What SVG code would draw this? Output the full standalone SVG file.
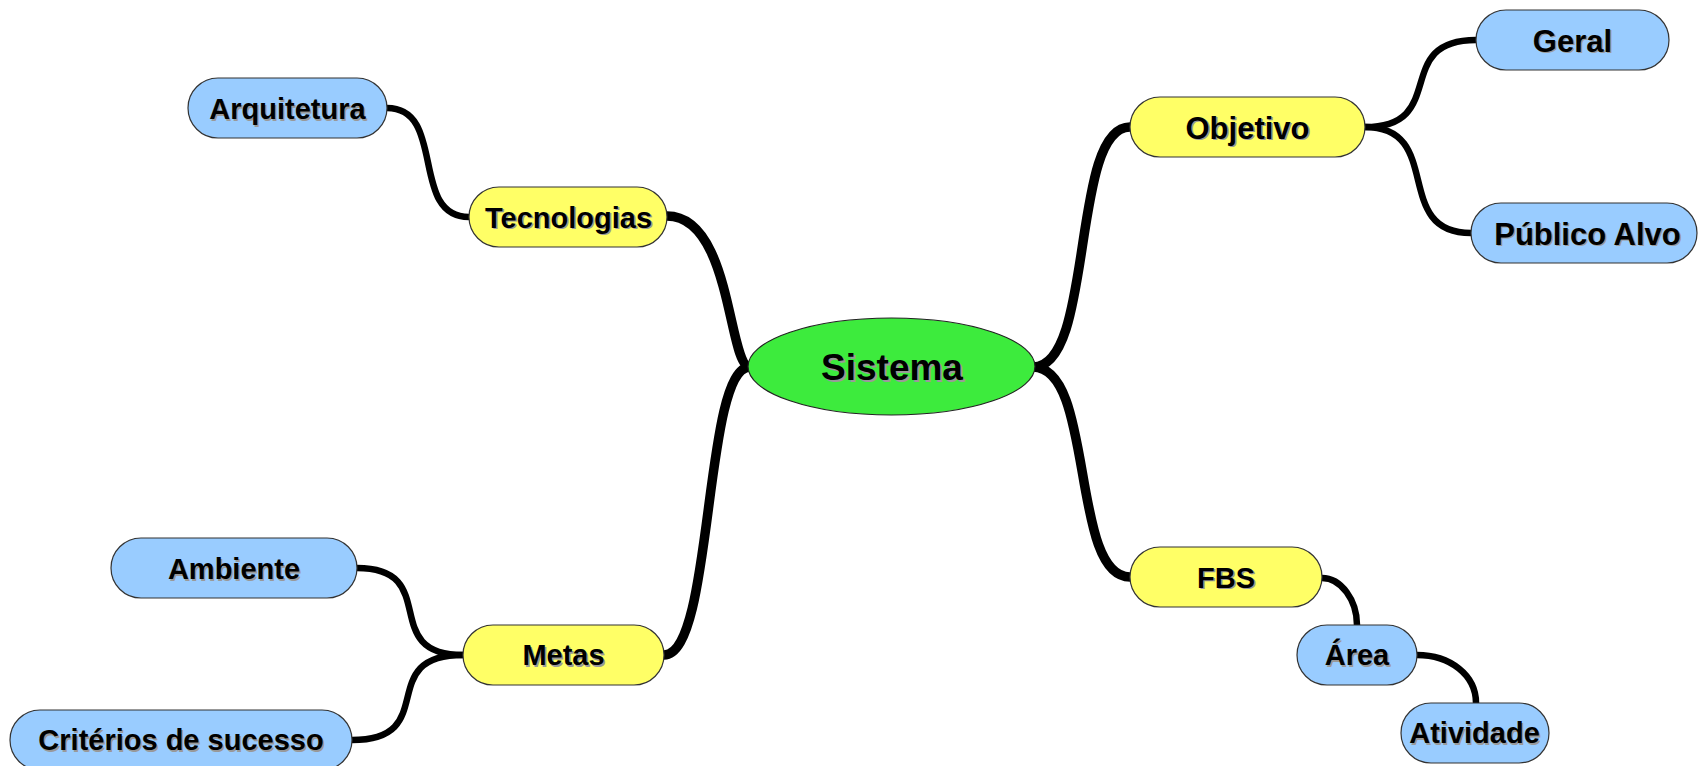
<svg xmlns="http://www.w3.org/2000/svg" width="1699" height="766" viewBox="0 0 1699 766">
<style>
.bg{fill:#ffffff}
.main{fill:none;stroke:#000;stroke-width:9.5;stroke-linecap:butt}
.sub{fill:none;stroke:#000;stroke-width:6.5;stroke-linecap:butt}
.y{fill:#FFFF66;stroke:#333;stroke-width:1.2}
.b{fill:#99CCFF;stroke:#333;stroke-width:1.2}
.g{fill:#3DEB3D;stroke:#222;stroke-width:1.2}
text{font-family:"Liberation Sans",Arial,sans-serif;font-weight:bold;text-anchor:middle}
.t{fill:#000;font-size:29px}
.tl{fill:#000;font-size:31px}
.sh{fill:#999;font-size:29px}
.shl{fill:#999;font-size:31px}
</style>
<rect class="bg" x="0" y="0" width="1699" height="766"/>
<g id="connectors">
  <path class="main" d="M667,216 C732,216 728,367 750,367"/>
  <path class="main" d="M750,367 C703,367 714,655 664,655"/>
  <path class="main" d="M1033,367 C1095,367 1070,127 1130,127"/>
  <path class="main" d="M1033,367 C1095,367 1070,577 1130,577"/>
  <path class="sub" d="M387,108 C447,108 409,217 469,217"/>
  <path class="sub" d="M357,568 C443,568 377,655 463,655"/>
  <path class="sub" d="M352,740 C442,740 373,655 463,655"/>
  <path class="sub" d="M1365,127 C1450,127 1391,40 1476,40"/>
  <path class="sub" d="M1365,127 C1445,127 1391,233 1471,233"/>
  <path class="sub" d="M1322,578 C1341,578 1357,600 1357,625"/>
  <path class="sub" d="M1417,655 C1450,655 1476,675 1476,703"/>
</g>
<g id="sistema">
  <ellipse class="g" cx="891.5" cy="366.5" rx="143.5" ry="48.5"/>
  <text x="894" y="382" style="fill:#999;font-size:37px">Sistema</text>
  <text x="892" y="380" style="fill:#000;font-size:37px">Sistema</text>
</g>
<g id="tecnologias">
  <rect class="y" x="469" y="187" width="198" height="60" rx="30"/>
  <text class="sh" x="570" y="229">Tecnologias</text>
  <text class="t" x="568.5" y="227.5">Tecnologias</text>
</g>
<g id="arquitetura">
  <rect class="b" x="188" y="78" width="199" height="60" rx="30"/>
  <text class="sh" x="289" y="120.5">Arquitetura</text>
  <text class="t" x="287.5" y="119">Arquitetura</text>
</g>
<g id="metas">
  <rect class="y" x="463" y="625" width="201" height="60" rx="30"/>
  <text class="sh" x="565" y="666.5">Metas</text>
  <text class="t" x="563.5" y="665">Metas</text>
</g>
<g id="ambiente">
  <rect class="b" x="111" y="538" width="246" height="60" rx="30"/>
  <text class="sh" x="235.5" y="580.5">Ambiente</text>
  <text class="t" x="234" y="579">Ambiente</text>
</g>
<g id="criterios">
  <rect class="b" x="10" y="710" width="342" height="60" rx="30"/>
  <text class="sh" x="182.5" y="751.5">Critérios de sucesso</text>
  <text class="t" x="181" y="750">Critérios de sucesso</text>
</g>
<g id="objetivo">
  <rect class="y" x="1130" y="97" width="235" height="60" rx="30"/>
  <text class="shl" x="1249" y="140">Objetivo</text>
  <text class="tl" x="1247.5" y="138.5">Objetivo</text>
</g>
<g id="geral">
  <rect class="b" x="1476" y="10" width="193" height="60" rx="30"/>
  <text class="shl" x="1574" y="53">Geral</text>
  <text class="tl" x="1572.5" y="51.5">Geral</text>
</g>
<g id="publico">
  <rect class="b" x="1471" y="203" width="226" height="60" rx="30"/>
  <text class="shl" x="1589" y="246">Público Alvo</text>
  <text class="tl" x="1587.5" y="244.5">Público Alvo</text>
</g>
<g id="fbs">
  <rect class="y" x="1130" y="547" width="192" height="60" rx="30"/>
  <text class="sh" x="1227.5" y="589">FBS</text>
  <text class="t" x="1226" y="587.5">FBS</text>
</g>
<g id="area">
  <rect class="b" x="1297" y="625" width="120" height="60" rx="30"/>
  <text class="sh" x="1358.5" y="666.5">Área</text>
  <text class="t" x="1357" y="665">Área</text>
</g>
<g id="atividade">
  <rect class="b" x="1401" y="703" width="148" height="60" rx="30"/>
  <text class="sh" x="1476" y="744.5">Atividade</text>
  <text class="t" x="1474.5" y="743">Atividade</text>
</g>
</svg>
